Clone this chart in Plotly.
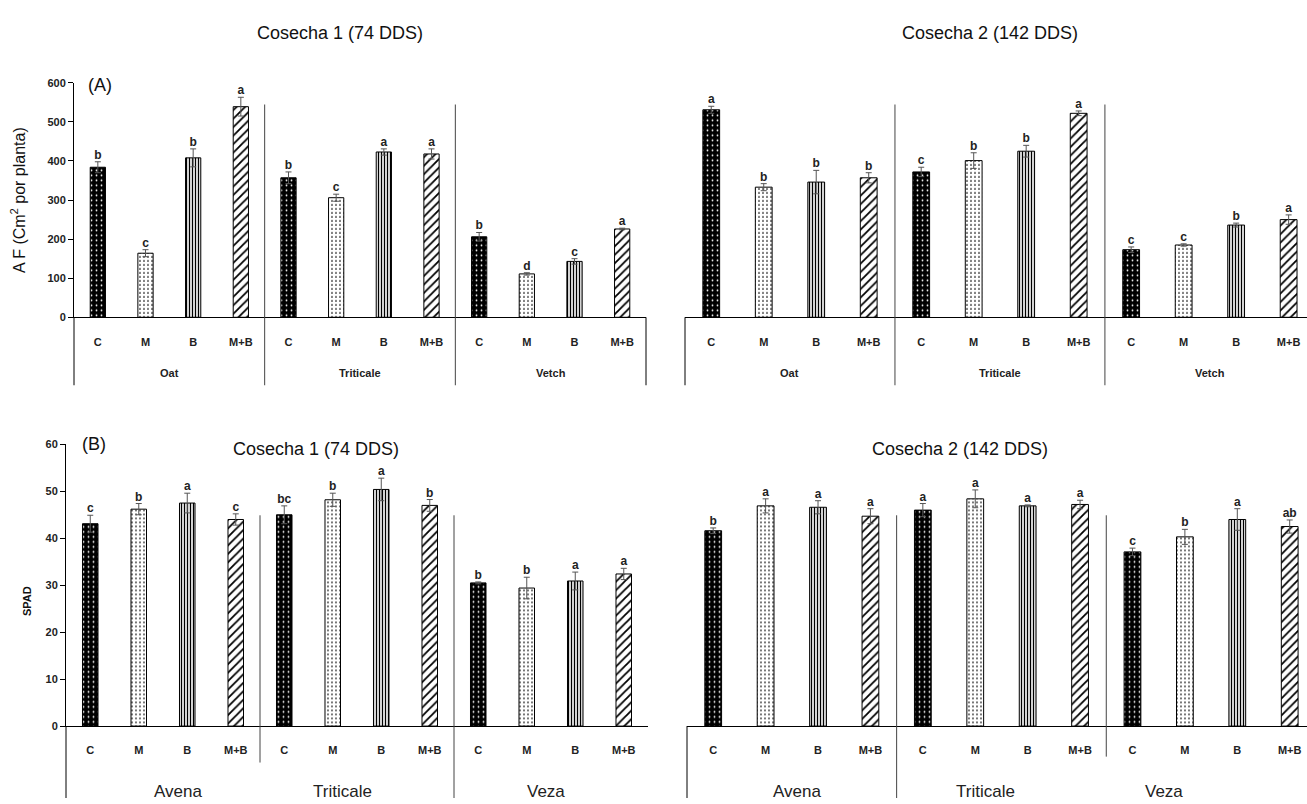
import plotly.graph_objects as go

# ---------------- data ----------------
treatments = ["C", "M", "B", "M+B"]
crops_af = ["Oat", "Triticale", "Vetch"]
crops_spad = ["Avena", "Triticale", "Veza"]

af_h1 = [384, 164, 408, 539, 357, 306, 423, 418, 206, 111, 143, 226]
af_h1_err = [14, 9, 23, 24, 15, 9, 8, 13, 11, 3, 7, 2]
af_h1_letters = ["b", "c", "b", "a", "b", "c", "a", "a", "b", "d", "c", "a"]

af_h2 = [531, 333, 346, 357, 372, 401, 425, 522, 173, 185, 236, 250]
af_h2_err = [9, 9, 30, 13, 12, 20, 15, 6, 7, 3, 5, 12]
af_h2_letters = ["a", "b", "b", "b", "c", "b", "b", "a", "c", "c", "b", "a"]

spad_h1 = [43.1, 46.2, 47.5, 44.0, 45.0, 48.2, 50.4, 47.0, 30.5, 29.4, 30.9, 32.4]
spad_h1_err = [1.8, 1.2, 2.1, 1.2, 1.9, 1.4, 2.4, 1.25, 0.2, 2.3, 1.9, 1.2]
spad_h1_letters = ["c", "b", "a", "c", "bc", "b", "a", "b", "b", "b", "a", "a"]

spad_h2 = [41.6, 46.9, 46.6, 44.7, 46.0, 48.4, 46.9, 47.2, 37.1, 40.3, 44.0, 42.5]
spad_h2_err = [0.6, 1.5, 1.4, 1.6, 1.4, 1.9, 0.2, 0.9, 0.8, 1.6, 2.3, 1.4]
spad_h2_letters = ["b", "a", "a", "a", "a", "a", "a", "a", "c", "b", "a", "ab"]

af_ticks = [0, 100, 200, 300, 400, 500, 600]
spad_ticks = [0, 10, 20, 30, 40, 50, 60]

titles = ["Cosecha 1 (74 DDS)", "Cosecha 2 (142 DDS)"]

# ---------------- styling ----------------
W, H = 1307, 804
NARROW = "Liberation Sans Narrow, Liberation Sans, Arial, sans-serif"
ARIAL = "Liberation Sans, Arial, sans-serif"

patterns = [
    dict(shape=".", bgcolor="black", fgcolor="white", size=5, solidity=0.1, fillmode="replace"),
    dict(shape=".", bgcolor="white", fgcolor="black", size=4, solidity=0.15, fillmode="replace"),
    dict(shape="|", bgcolor="white", fgcolor="black", size=3, solidity=0.45, fillmode="replace"),
    dict(shape="/", bgcolor="white", fgcolor="black", size=6, solidity=0.3, fillmode="replace"),
]


def fx(p):
    return p / W


def fy(p):
    return 1 - p / H


panels = [
    dict(vals=af_h1, err=af_h1_err, let=af_h1_letters, crops=crops_af, ticks=af_ticks,
         x0=74, x1=646, xend=11.5, y0=316, y1=78, ymax=600, showy=True,
         div_top=100, box_bot=385, div_bots=[385, 385], left_bot=385, right_line=True,
         grp_y=373, grp_x=[1.5, 5.5, 9.5], big_groups=False),
    dict(vals=af_h2, err=af_h2_err, let=af_h2_letters, crops=crops_af, ticks=af_ticks,
         x0=685, x1=1307, xend=11.35, y0=316, y1=78, ymax=600, showy=False,
         div_top=100, box_bot=385, div_bots=[385, 385], left_bot=385, right_line=False,
         grp_y=373, grp_x=[1.5, 5.5, 9.5], big_groups=False),
    dict(vals=spad_h1, err=spad_h1_err, let=spad_h1_letters, crops=crops_spad, ticks=spad_ticks,
         x0=66, x1=648, xend=11.5, y0=731, y1=445, ymax=60, showy=True,
         div_top=517, box_bot=804, div_bots=[768, 804], left_bot=804, right_line=False,
         grp_y=797, grp_x=[1.8, 5.2, 9.4], big_groups=True),
    dict(vals=spad_h2, err=spad_h2_err, let=spad_h2_letters, crops=crops_spad, ticks=spad_ticks,
         x0=687, x1=1307, xend=11.33, y0=731, y1=445, ymax=60, showy=False,
         div_top=517, box_bot=804, div_bots=[804, 762], left_bot=804, right_line=False,
         grp_y=797, grp_x=[1.6, 5.2, 8.6], big_groups=True),
]

fig = go.Figure()
shapes = []
annotations = []
layout_axes = {}

for pi, p in enumerate(panels):
    sfx = "" if pi == 0 else str(pi + 1)
    xa, ya = "x" + sfx, "y" + sfx
    n = len(p["vals"])
    for t, tname in enumerate(treatments):
        idx = list(range(t, n, len(treatments)))
        fig.add_trace(go.Bar(
            x=idx, y=[p["vals"][i] for i in idx],
            width=0.32,
            marker=dict(color="white", line=dict(color="black", width=1), pattern=patterns[t]),
            error_y=dict(type="data", array=[p["err"][i] for i in idx], color="#555",
                         thickness=1, width=3),
            xaxis=xa, yaxis=ya, showlegend=False, name=tname,
        ))
    fig.add_trace(go.Scatter(
        x=list(range(n)), y=[v + e for v, e in zip(p["vals"], p["err"])],
        text=p["let"], mode="text", textposition="top center",
        textfont=dict(family=NARROW, size=12, color="#222", weight="bold"),
        cliponaxis=False, xaxis=xa, yaxis=ya, showlegend=False, hoverinfo="skip",
    ))

    ticktext = treatments * len(p["crops"])
    layout_axes["xaxis" + sfx] = dict(
        domain=[fx(p["x0"]), min(1, fx(p["x1"]))], range=[-0.5, p["xend"]], anchor=ya,
        tickvals=list(range(n)), ticktext=ticktext, showline=True, linecolor="black",
        linewidth=1.3, ticks="", showgrid=False, zeroline=False, ticklabelstandoff=14,
        tickfont=dict(family=NARROW, size=11, color="#222", weight="bold"),
    )
    layout_axes["yaxis" + sfx] = dict(
        domain=[fy(p["y0"]), fy(p["y1"])], range=[0, p["ymax"]], anchor=xa,
        tickvals=p["ticks"], showticklabels=p["showy"], showline=p["showy"],
        linecolor="black", linewidth=1, ticks="outside" if p["showy"] else "",
        ticklen=5, tickcolor="black", showgrid=False, zeroline=False,
        tickfont=dict(family=NARROW, size=11, color="#222", weight="bold"),
    )

    # group dividers
    for k, xd in enumerate([3.5, 7.5]):
        shapes.append(dict(type="line", xref=xa, yref="paper", x0=xd, x1=xd,
                           y0=fy(p["div_top"]), y1=fy(p["div_bots"][k]),
                           line=dict(color="#444", width=1)))
    # left box line below axis
    shapes.append(dict(type="line", xref=xa + " domain", yref="paper", x0=0, x1=0,
                       y0=fy(p["y0"]), y1=fy(p["left_bot"]), line=dict(color="black", width=1)))
    if p["right_line"]:
        shapes.append(dict(type="line", xref=xa + " domain", yref="paper", x0=1, x1=1,
                           y0=fy(p["y0"]), y1=fy(p["box_bot"]), line=dict(color="black", width=1)))

    # group labels
    for g, crop in enumerate(p["crops"]):
        if p["big_groups"]:
            font = dict(family=NARROW, size=17, color="#222")
        else:
            font = dict(family=NARROW, size=11, color="#222", weight="bold")
        annotations.append(dict(x=p["grp_x"][g], y=fy(p["grp_y"]), xref=xa, yref="paper",
                                text=crop, showarrow=False, font=font,
                                xanchor="center", yanchor="middle"))

# titles and labels
title_font = dict(family=NARROW, size=18, color="#111")


def label(px, py, text, font, angle=0):
    return dict(x=fx(px), y=fy(py), text=text, showarrow=False, font=font, textangle=angle,
                xref="paper", yref="paper", xanchor="center", yanchor="middle")


annotations += [
    label(340, 27, titles[0], title_font),
    label(990, 27, titles[1], title_font),
    label(316, 450, titles[0], title_font),
    label(960, 450, titles[1], title_font),
    label(100, 80, "(A)", title_font),
    label(94, 445, "(B)", title_font),
    label(18, 197, "A F (Cm<sup>2</sup> por planta)", dict(family=ARIAL, size=16, color="#111"), -90),
    label(27, 604, "<b>SPAD</b>", dict(family=ARIAL, size=11, color="#111"), -90),
]

fig.update_layout(
    width=W, height=H, margin=dict(l=0, r=0, t=0, b=0),
    paper_bgcolor="white", plot_bgcolor="white", barmode="overlay",
    shapes=shapes, annotations=annotations, **layout_axes,
)

fig.write_html("out.html", config={"displayModeBar": False},
               post_script="document.body.style.margin='0';document.body.style.overflow='hidden';")
